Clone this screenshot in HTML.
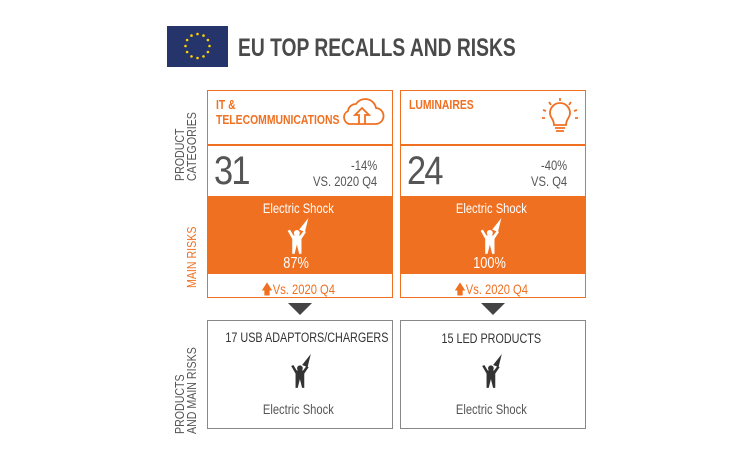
<!DOCTYPE html>
<html><head><meta charset="utf-8"><style>
body{margin:0;width:749px;height:449px;background:#fff;position:relative;overflow:hidden;font-family:"Liberation Sans",sans-serif;}
.a{position:absolute;}
.box{position:absolute;border:1.5px solid #f07022;box-sizing:border-box;}
.g{color:#555;}
.o{color:#f07022;}
.n{display:inline-block;transform:scaleX(.8);transform-origin:center;white-space:nowrap;}
.nl{display:inline-block;transform:scaleX(.8);transform-origin:left;white-space:nowrap;}
.nr{display:inline-block;transform:scaleX(.8);transform-origin:right;white-space:nowrap;}
.rot{position:absolute;transform:rotate(-90deg) scaleX(.85);transform-origin:left top;white-space:nowrap;font-size:12.5px;line-height:12px;}
</style></head><body>
<svg class="a" style="left:167px;top:26px" width="61" height="41" viewBox="0 0 61 41">
<rect width="61" height="41" fill="#25356b"/>
<g fill="#ffd200">
<circle cx="30.5" cy="8" r="1.3"/><circle cx="36.5" cy="9.6" r="1.3"/><circle cx="40.9" cy="14" r="1.3"/><circle cx="42.5" cy="20" r="1.3"/><circle cx="40.9" cy="26" r="1.3"/><circle cx="36.5" cy="30.4" r="1.3"/><circle cx="30.5" cy="32" r="1.3"/><circle cx="24.5" cy="30.4" r="1.3"/><circle cx="20.1" cy="26" r="1.3"/><circle cx="18.5" cy="20" r="1.3"/><circle cx="20.1" cy="14" r="1.3"/><circle cx="24.5" cy="9.6" r="1.3"/>
</g></svg>
<div class="a" style="left:238px;top:34px;font-size:25px;font-weight:bold;color:#4a4a4a"><span class="nl" style="transform:scaleX(.77)">EU TOP RECALLS AND RISKS</span></div>

<div class="rot g" style="left:174px;top:181px">PRODUCT<br>CATEGORIES</div>
<div class="rot o" style="left:186px;top:288px">MAIN RISKS</div>
<div class="rot g" style="left:174px;top:434px">PRODUCTS<br>AND MAIN RISKS</div>

<!-- box 1 -->
<div class="box" style="left:207px;top:90px;width:186px;height:208px"></div>
<div class="a" style="left:207px;top:144px;width:186px;height:1.5px;background:#f07022"></div>
<div class="a" style="left:207px;top:196px;width:186px;height:78px;background:#f07022"></div>
<div class="a o" style="left:216px;top:97px;font-size:13px;font-weight:bold;line-height:15px"><span class="nl">IT &amp;<br>TELECOMMUNICATIONS</span></div>
<svg class="a" style="left:339px;top:97px" width="46" height="30" viewBox="0 0 46 30" fill="none" stroke="#f07022" stroke-width="1.8">
<path d="M10 27 H36 A8 8 0 0 0 37 11 A11 11 0 0 0 17 7 A8 8 0 0 0 9 14 A7 7 0 0 0 10 27 Z"/>
<path d="M20 27 V18 H16 L23 11 L30 18 H26 V27"/></svg>
<div class="a g" style="left:214px;top:149px;font-size:40px;letter-spacing:-2px;color:#555"><span class="nl" style="transform:scaleX(.86)">31</span></div>
<div class="a g" style="left:280px;top:157px;width:97px;text-align:right;font-size:14px;line-height:16px"><span class="nr">-14%<br>VS. 2020 Q4</span></div>
<div class="a" style="left:205px;top:200px;width:186px;text-align:center;color:#fff;font-size:14px"><span class="n">Electric Shock</span></div>
<div class="a" style="left:203px;top:255px;width:186px;text-align:center;color:#fff;font-size:16px"><span class="n">87%</span></div>
<div class="a o" style="left:205px;top:279px;width:186px;text-align:center;font-size:14px"><span class="n">🡅Vs. 2020 Q4</span></div>

<!-- box 2 -->
<div class="box" style="left:400px;top:90px;width:186px;height:208px"></div>
<div class="a" style="left:400px;top:144px;width:186px;height:1.5px;background:#f07022"></div>
<div class="a" style="left:400px;top:196px;width:186px;height:78px;background:#f07022"></div>
<div class="a o" style="left:409px;top:97px;font-size:13px;font-weight:bold"><span class="nl">LUMINAIRES</span></div>
<svg class="a" style="left:540px;top:97px" width="40" height="40" viewBox="0 0 40 40" fill="none" stroke="#f07022" stroke-width="1.8">
<path d="M14 28 C14 22 10 21 10 16 A10 10 0 0 1 30 16 C30 21 26 22 26 28 Z"/>
<path d="M15 31 H25 M16 34 H24"/>
<path d="M20 1 V4 M9 5 L11 8 M31 5 L29 8 M3 13 L6 14 M37 13 L34 14 M2 21 H5 M35 21 H38"/></svg>
<div class="a g" style="left:407px;top:149px;font-size:40px;letter-spacing:-2px;color:#555"><span class="nl" style="transform:scaleX(.86)">24</span></div>
<div class="a g" style="left:470px;top:157px;width:97px;text-align:right;font-size:14px;line-height:16px"><span class="nr">-40%<br>VS. Q4</span></div>
<div class="a" style="left:398px;top:200px;width:186px;text-align:center;color:#fff;font-size:14px"><span class="n">Electric Shock</span></div>
<div class="a" style="left:396px;top:255px;width:186px;text-align:center;color:#fff;font-size:16px"><span class="n">100%</span></div>
<div class="a o" style="left:398px;top:279px;width:186px;text-align:center;font-size:14px"><span class="n">🡅Vs. 2020 Q4</span></div>

<svg class="a" style="left:288px;top:303px" width="24" height="12"><path d="M0 0 H24 L12 12Z" fill="#444"/></svg>
<svg class="a" style="left:481px;top:303px" width="24" height="12"><path d="M0 0 H24 L12 12Z" fill="#444"/></svg>

<div class="a" style="left:207px;top:320px;width:186px;height:109px;border:1.5px solid #888;box-sizing:border-box"></div>
<div class="a" style="left:400px;top:320px;width:186px;height:109px;border:1.5px solid #888;box-sizing:border-box"></div>
<div class="a" style="left:205px;top:330px;width:186px;text-align:center;font-size:13.5px;color:#333"><span class="n">17 USB ADAPTORS/CHARGERS</span></div>
<div class="a" style="left:398px;top:331px;width:186px;text-align:center;font-size:13.5px;color:#333"><span class="n">15 LED PRODUCTS</span></div>
<div class="a g" style="left:205px;top:401px;width:186px;text-align:center;font-size:14px"><span class="n">Electric Shock</span></div>
<div class="a g" style="left:398px;top:401px;width:186px;text-align:center;font-size:14px"><span class="n">Electric Shock</span></div>

<svg width="0" height="0" style="position:absolute"><defs>
<g id="p"><path d="M12 10 L20 0 L17 12 Z"/><circle cx="10" cy="13" r="2.6"/>
<path d="M2 11 L4 10 L7 15 H13 L16 11 L18 12 L14 18 V31 H12 L10 23 L8 31 H6 V18 Z"/></g></defs></svg>
<svg class="a" style="left:285px;top:218px" width="26" height="37" viewBox="0 0 22 32"><use href="#p" fill="#fff"/></svg>
<svg class="a" style="left:478px;top:218px" width="26" height="37" viewBox="0 0 22 32"><use href="#p" fill="#fff"/></svg>
<svg class="a" style="left:289px;top:354px" width="24" height="35" viewBox="0 0 22 32"><use href="#p" fill="#333"/></svg>
<svg class="a" style="left:480px;top:354px" width="24" height="35" viewBox="0 0 22 32"><use href="#p" fill="#333"/></svg>
</body></html>
